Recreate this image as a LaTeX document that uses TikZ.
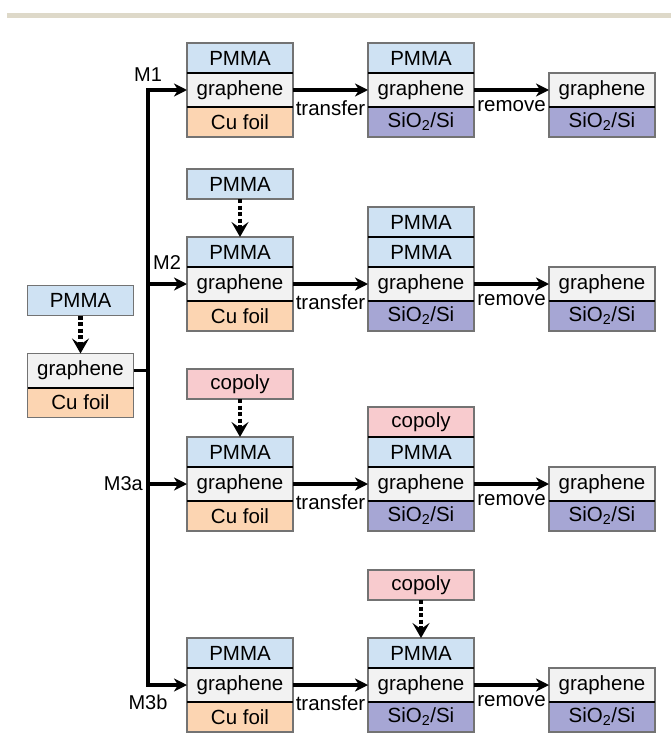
\documentclass[tikz,border=0pt]{standalone}
\usepackage{fontspec}
\setmainfont{Liberation Sans}
\usetikzlibrary{arrows.meta,positioning}

\definecolor{pmmablue}{HTML}{CFE2F3}
\definecolor{grapgray}{HTML}{F2F2F2}
\definecolor{cupeach}{HTML}{FCD5B2}
\definecolor{sioxlav}{HTML}{A6A6D4}
\definecolor{copink}{HTML}{F8CBCE}
\definecolor{rulebeige}{HTML}{DED9C9}

\begin{document}
\begin{tikzpicture}[x=1pt, y=-1pt,
  layer/.style={rectangle, draw=black!55, line width=1.2pt, minimum width=106pt,
    minimum height=30pt, inner sep=0pt, outer sep=0pt,
    font=\fontsize{20.5}{24}\selectfont},
  pmma/.style={layer, fill=pmmablue},
  gra/.style={layer, fill=grapgray, minimum height=34pt},
  cufoil/.style={layer, fill=cupeach},
  subst/.style={layer, fill=sioxlav},
  copoly/.style={layer, fill=copink},
  divider/.style={black, line width=2pt},
  seam above/.style={append after command={(\tikzlastnode.north west) edge[divider] (\tikzlastnode.north east)}},
  seam below/.style={append after command={(\tikzlastnode.south west) edge[divider] (\tikzlastnode.south east)}},
  trunkline/.style={black, line width=3.2pt, line join=miter},
  arrow/.style={trunkline, -{Stealth[length=13pt, width=13pt, inset=4pt]}},
  darrow/.style={black, line width=4.5pt, dash pattern=on 4pt off 2.5pt,
    -{Stealth[length=15pt, width=17pt, inset=6pt]}},
  mlabel/.style={font=\fontsize{20}{24}\selectfont, inner sep=0pt},
  plabel/.style={font=\fontsize{20.5}{24}\selectfont, inner sep=0pt, below=9pt},
  node distance=0pt and 0pt
]
\useasboundingbox (0,0) rectangle (671,733);

% page rule
\fill[rulebeige] (7,13) rectangle (671,18);

% starting sample
\node[gra] (ag) at (80.5,370.5) {graphene};
\node[cufoil, below=of ag, seam above] (ac) {Cu foil};
\node[pmma, above=38pt of ag] (ax) {PMMA};
\draw[darrow] (ax) -- (ag);

% M1 row
\node[gra] (b1g) at (240,90) {graphene};
\node[pmma, above=of b1g, seam below] (b1p) {PMMA};
\node[cufoil, below=of b1g, seam above] (b1c) {Cu foil};
\node[gra] (c1g) at (421,90) {graphene};
\node[pmma, above=of c1g, seam below] (c1p) {PMMA};
\node[subst, below=of c1g, seam above] (c1s) {SiO\textsubscript{2}/Si};
\node[gra] (d1g) at (602,90) {graphene};
\node[subst, below=of d1g, seam above] (d1s) {SiO\textsubscript{2}/Si};

% M2 row
\node[gra] (b2g) at (240,284) {graphene};
\node[pmma, above=of b2g, seam below] (b2p) {PMMA};
\node[cufoil, below=of b2g, seam above] (b2c) {Cu foil};
\node[pmma, above=38pt of b2p] (b2x) {PMMA};
\node[gra] (c2g) at (421,284) {graphene};
\node[pmma, above=of c2g, seam below] (c2p) {PMMA};
\node[pmma, above=of c2p, seam below] (c2q) {PMMA};
\node[subst, below=of c2g, seam above] (c2s) {SiO\textsubscript{2}/Si};
\node[gra] (d2g) at (602,284) {graphene};
\node[subst, below=of d2g, seam above] (d2s) {SiO\textsubscript{2}/Si};

% M3a row
\node[gra] (b3g) at (240,484) {graphene};
\node[pmma, above=of b3g, seam below] (b3p) {PMMA};
\node[cufoil, below=of b3g, seam above] (b3c) {Cu foil};
\node[copoly, above=38pt of b3p] (b3x) {copoly};
\node[gra] (c3g) at (421,484) {graphene};
\node[pmma, above=of c3g, seam below] (c3p) {PMMA};
\node[copoly, above=of c3p, seam below] (c3q) {copoly};
\node[subst, below=of c3g, seam above] (c3s) {SiO\textsubscript{2}/Si};
\node[gra] (d3g) at (602,484) {graphene};
\node[subst, below=of d3g, seam above] (d3s) {SiO\textsubscript{2}/Si};

% M3b row
\node[gra] (b4g) at (240,685) {graphene};
\node[pmma, above=of b4g, seam below] (b4p) {PMMA};
\node[cufoil, below=of b4g, seam above] (b4c) {Cu foil};
\node[gra] (c4g) at (421,685) {graphene};
\node[pmma, above=of c4g, seam below] (c4p) {PMMA};
\node[subst, below=of c4g, seam above] (c4s) {SiO\textsubscript{2}/Si};
\node[copoly, above=38pt of c4p] (c4x) {copoly};
\node[gra] (d4g) at (602,685) {graphene};
\node[subst, below=of d4g, seam above] (d4s) {SiO\textsubscript{2}/Si};

% added layers
\draw[darrow] (b2x) -- (b2p);
\draw[darrow] (b3x) -- (b3p);
\draw[darrow] (c4x) -- (c4p);

% branching trunk
\coordinate (trunk) at (148,370.5);
\draw[trunkline] (ag) -- (trunk);
\draw[arrow] (trunk) |- (b1g);
\draw[arrow] (trunk) |- (b4g);
\draw[arrow] (b2g -| trunk) -- (b2g);
\draw[arrow] (b3g -| trunk) -- (b3g);

% method labels
\node[mlabel] (m1) at (148,75) {M1};
\node[mlabel] (m2) at (167,263) {M2};
\node[mlabel, anchor=east] (m3a) at (143,484) {M3a};
\node[mlabel] (m3b) at (148,702) {M3b};

% transfer and removal steps
\draw[arrow] (b1g) -- node[plabel] {transfer} (c1g);
\draw[arrow] (c1g) -- node[plabel] {remove} (d1g);
\draw[arrow] (b2g) -- node[plabel] {transfer} (c2g);
\draw[arrow] (c2g) -- node[plabel] {remove} (d2g);
\draw[arrow] (b3g) -- node[plabel] {transfer} (c3g);
\draw[arrow] (c3g) -- node[plabel] {remove} (d3g);
\draw[arrow] (b4g) -- node[plabel] {transfer} (c4g);
\draw[arrow] (c4g) -- node[plabel] {remove} (d4g);

\end{tikzpicture}
\end{document}
